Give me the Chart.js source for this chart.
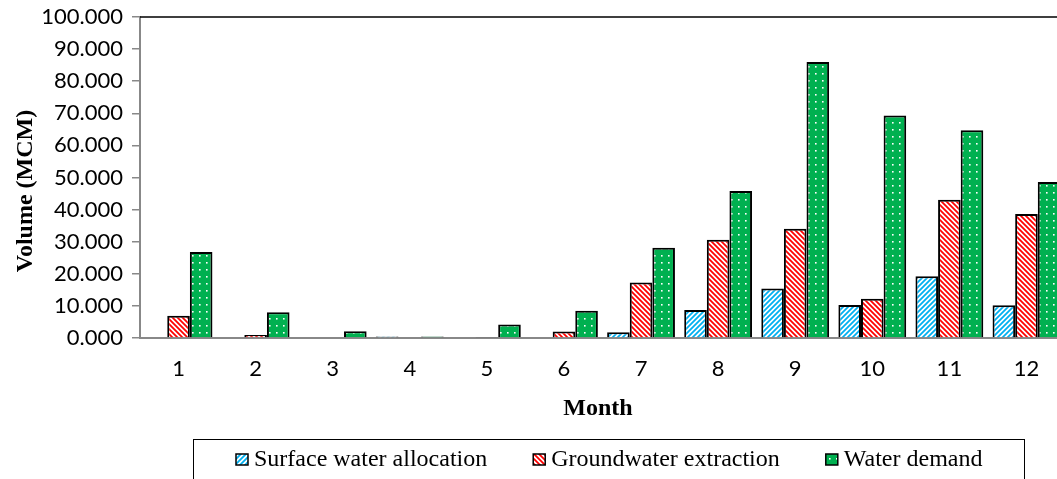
<!DOCTYPE html>
<html>
<head>
<meta charset="utf-8">
<script src="https://cdn.jsdelivr.net/npm/chart.js@4.4.1/dist/chart.umd.min.js"></script>
<style>
    html, body { margin: 0; padding: 0; background: #fff; overflow: hidden; }
    #wrap { position: relative; width: 1075px; height: 479px; }
</style>
</head>
<body>
<div id="wrap"><canvas id="chart" width="1075" height="479"></canvas></div>
<script>
// ===============================
// DATA
// ===============================
const months = ['1', '2', '3', '4', '5', '6', '7', '8', '9', '10', '11', '12'];
const surfaceWater = [0, 0, 0, 0.5, 0, 0, 1.8, 8.7, 15.4, 10.3, 19.2, 10.2];
const groundwater = [6.9, 0.9, 0, 0, 0.3, 2.0, 17.3, 30.6, 34.0, 12.2, 43.1, 38.6];
const waterDemand = [26.8, 8.0, 2.1, 0.5, 4.2, 8.5, 28.1, 45.8, 86.0, 69.3, 64.7, 48.6];
const yMin = 0;
const yMax = 100;
const yStep = 10;

const seriesNames = ['Surface water allocation', 'Groundwater extraction', 'Water demand'];
const xTitle = 'Month';
const yTitle = 'Volume (MCM)';

// ===============================
// PATTERNS
// ===============================
function stripes(color, up) {
    const c = document.createElement('canvas');
    c.width = 5; c.height = 5;
    const g = c.getContext('2d');
    g.fillStyle = '#fff';
    g.fillRect(0, 0, 5, 5);
    g.strokeStyle = color;
    g.lineWidth = 1.8;
    g.beginPath();
    if (up) {
        g.moveTo(-1, 1); g.lineTo(1, -1);
        g.moveTo(0, 5); g.lineTo(5, 0);
        g.moveTo(4, 6); g.lineTo(6, 4);
    } else {
        g.moveTo(-1, 4); g.lineTo(1, 6);
        g.moveTo(0, 0); g.lineTo(5, 5);
        g.moveTo(4, -1); g.lineTo(6, 1);
    }
    g.stroke();
    return g.createPattern(c, 'repeat');
}

function dots(color) {
    const c = document.createElement('canvas');
    c.width = 7; c.height = 7;
    const g = c.getContext('2d');
    g.fillStyle = color;
    g.fillRect(0, 0, 7, 7);
    g.fillStyle = '#fff';
    g.fillRect(3, 3, 1.6, 1.6);
    return g.createPattern(c, 'repeat');
}

const fills = [stripes('#00b0f0', true), stripes('#ff0000', false), dots('#00b050')];

// ===============================
// PLUGINS (frame, axis titles, boxed legend)
// ===============================
const extras = {
    id: 'extras',
    afterDraw(chart) {
        const ctx = chart.ctx;
        const a = chart.chartArea;
        ctx.save();

        // top frame line
        ctx.strokeStyle = '#000';
        ctx.lineWidth = 1.5;
        ctx.beginPath();
        ctx.moveTo(a.left, a.top);
        ctx.lineTo(a.right, a.top);
        ctx.lineTo(a.right, a.bottom);
        ctx.stroke();

        // axis titles
        ctx.fillStyle = '#000';
        ctx.font = 'bold 24px "Liberation Serif", "Times New Roman", serif';
        ctx.textAlign = 'center';
        ctx.textBaseline = 'alphabetic';
        ctx.fillText(xTitle, 598, 415);

        ctx.save();
        ctx.translate(32, 191);
        ctx.rotate(-Math.PI / 2);
        ctx.fillText(yTitle, 0, 0);
        ctx.restore();

        // legend box
        ctx.strokeStyle = '#000';
        ctx.lineWidth = 1;
        ctx.strokeRect(193.5, 439.5, 831, 60);

        ctx.font = '24px "Liberation Serif", "Times New Roman", serif';
        ctx.textAlign = 'left';
        let x = 236;
        chart.data.datasets.forEach(ds => {
            ctx.fillStyle = ds.backgroundColor;
            ctx.fillRect(x, 454, 12, 11);
            ctx.strokeStyle = '#000';
            ctx.lineWidth = 1.5;
            ctx.strokeRect(x, 454, 12, 11);
            ctx.fillStyle = '#000';
            ctx.fillText(ds.label, x + 18, 466);
            x += 18 + ctx.measureText(ds.label).width + 46;
        });

        ctx.restore();
    }
};

// ===============================
// CHART
// ===============================
const barStyle = {
    borderColor: '#000',
    borderWidth: 2,
    borderSkipped: 'start',
    barPercentage: 1.0,
    categoryPercentage: 0.88
};

new Chart(document.getElementById('chart').getContext('2d'), {
    type: 'bar',
    data: {
        labels: months,
        datasets: [
            { label: seriesNames[0], data: surfaceWater, backgroundColor: fills[0], ...barStyle },
            { label: seriesNames[1], data: groundwater, backgroundColor: fills[1], ...barStyle },
            { label: seriesNames[2], data: waterDemand, backgroundColor: fills[2], ...barStyle }
        ]
    },
    options: {
        responsive: false,
        animation: false,
        devicePixelRatio: 1,
        layout: { padding: { top: 17, right: 10, left: 0, bottom: 0 } },
        plugins: {
            legend: { display: false },
            tooltip: { enabled: false }
        },
        scales: {
            x: {
                grid: { display: false, drawTicks: false },
                border: { display: true, color: '#888', width: 2 },
                ticks: {
                    color: '#000',
                    padding: 18,
                    font: { family: 'Lato', size: 22 }
                },
                afterFit(scale) { scale.height = 141; }
            },
            y: {
                min: yMin,
                max: yMax,
                grid: {
                    drawOnChartArea: false,
                    drawTicks: true,
                    tickLength: 8,
                    color: '#888',
                    lineWidth: 1.5
                },
                border: { display: true, color: '#888', width: 2 },
                ticks: {
                    stepSize: yStep,
                    color: '#000',
                    padding: 9,
                    font: { family: 'Lato', size: 22 },
                    callback: v => v.toFixed(3)
                },
                afterFit(scale) {
                    scale.width = 140;
                    scale.paddingTop = 0;
                    scale.paddingBottom = 0;
                }
            }
        }
    },
    plugins: [extras]
});
</script>
</body>
</html>
